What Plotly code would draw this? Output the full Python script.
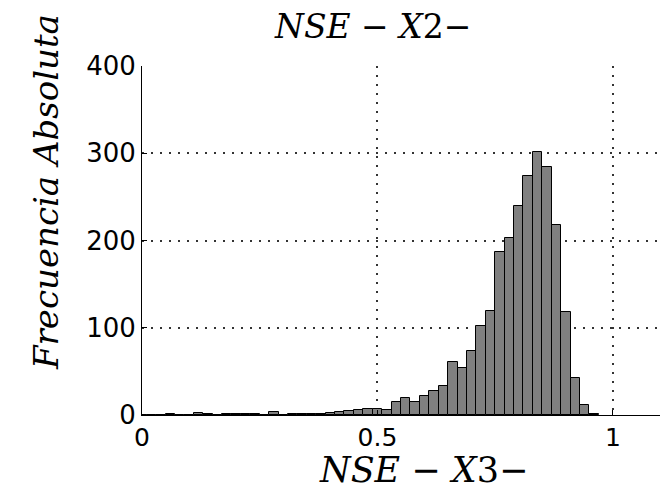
import plotly.graph_objects as go

# Histogram data (bin centers, counts)
bin_centers = [0.00, 0.02, 0.04, 0.06, 0.08, 0.10, 0.12, 0.14, 0.16, 0.18,
               0.20, 0.22, 0.24, 0.26, 0.28, 0.30, 0.32, 0.34, 0.36, 0.38,
               0.40, 0.42, 0.44, 0.46, 0.48, 0.50, 0.52, 0.54, 0.56, 0.58,
               0.60, 0.62, 0.64, 0.66, 0.68, 0.70, 0.72, 0.74, 0.76, 0.78,
               0.80, 0.82, 0.84, 0.86, 0.88, 0.90, 0.92, 0.94, 0.96]
counts = [0, 0, 0, 1, 0, 0, 2, 1, 0, 1,
          1, 1, 1, 0, 3, 0, 1, 1, 1, 1,
          2, 4, 5, 6, 7, 7, 6, 15, 20, 15,
          22, 27, 33, 61, 54, 73, 102, 119, 187, 203,
          240, 274, 301, 284, 218, 118, 42, 12, 1]
bin_width = 0.02

x_ticks = [0, 0.5, 1]
x_tick_labels = ["0", "0.5", "1"]
y_ticks = [0, 100, 200, 300, 400]
y_tick_labels = ["0", "100", "200", "300", "400"]

title_text = "<i>NSE</i> − <i>X</i>2−"
xlabel_text = "<i>NSE</i> − <i>X</i>3−"
ylabel_text = "<i>Frecuencia Absoluta</i>"

W, H = 666, 490
L, R, T, B = 142, 6, 66, 75
pw, ph = W - L - R, H - T - B

def px_x(p):
    return (p - L) / pw

def px_y(p):
    return (H - B - p) / ph

fig = go.Figure(go.Bar(
    x=bin_centers, y=counts, width=bin_width,
    marker=dict(color="#808080", line=dict(color="black", width=1)),
))

axis_common = dict(
    showgrid=True, griddash="2px,7px", gridcolor="#333333", gridwidth=1.5,
    showline=True, linecolor="black", linewidth=1,
    ticks="inside", ticklen=5, tickcolor="black",
    zeroline=False, mirror=False, ticklabelstandoff=0,
)

fig.update_layout(
    width=W, height=H,
    margin=dict(l=L, r=R, t=T, b=B, pad=0),
    paper_bgcolor="white", plot_bgcolor="white",
    showlegend=False, bargap=0,
    xaxis=dict(range=[0, 1.1], tickvals=x_ticks, ticktext=x_tick_labels,
               tickfont=dict(family="DejaVu Sans", size=25, color="black"),
               **axis_common),
    yaxis=dict(range=[0, 400], tickvals=y_ticks, ticktext=y_tick_labels,
               tickfont=dict(family="DejaVu Sans", size=26, color="black"),
               **axis_common),
    annotations=[
        dict(text=title_text, xref="paper", yref="paper", x=px_x(372), y=px_y(26),
             xanchor="center", yanchor="middle", showarrow=False,
             font=dict(family="DejaVu Serif", size=33, color="black")),
        dict(text=xlabel_text, xref="paper", yref="paper", x=px_x(423), y=px_y(470),
             xanchor="center", yanchor="middle", showarrow=False,
             font=dict(family="DejaVu Serif", size=35, color="black")),
        dict(text=ylabel_text, xref="paper", yref="paper", x=px_x(46), y=px_y(192),
             xanchor="center", yanchor="middle", showarrow=False, textangle=-90,
             font=dict(family="DejaVu Serif", size=34, color="black")),
    ],
)

fig.write_html("out.html")
